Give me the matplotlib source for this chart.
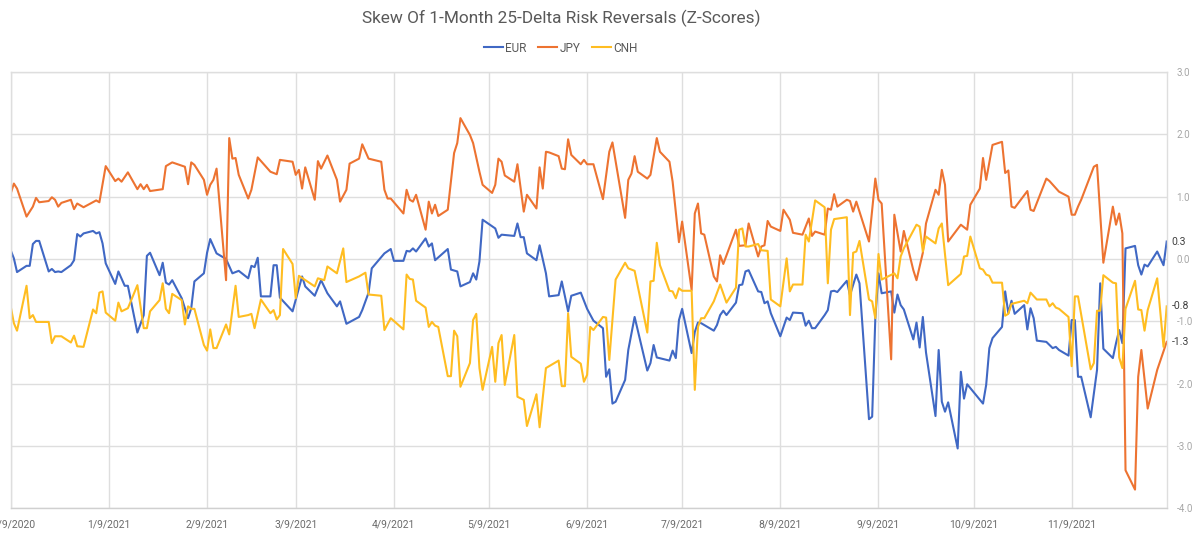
import matplotlib
matplotlib.use("Agg")
import matplotlib.pyplot as plt
import matplotlib.dates as mdates
import pandas as pd

TITLE = "Skew Of 1-Month 25-Delta Risk Reversals (Z-Scores)"
series_names = ["EUR", "JPY", "CNH"]

eur_dates = ["2020-12-09","2020-12-10","2020-12-11","2020-12-14","2020-12-15","2020-12-16","2020-12-17","2020-12-18",
"2020-12-21","2020-12-22","2020-12-23","2020-12-24","2020-12-25","2020-12-28","2020-12-29","2020-12-30","2020-12-31",
"2021-01-01","2021-01-04","2021-01-05","2021-01-06","2021-01-07","2021-01-08","2021-01-11","2021-01-12","2021-01-14",
"2021-01-15","2021-01-18","2021-01-20","2021-01-21","2021-01-22","2021-01-25","2021-01-26","2021-01-27","2021-01-28",
"2021-01-29","2021-02-01","2021-02-03","2021-02-04","2021-02-05","2021-02-08","2021-02-09","2021-02-10","2021-02-12",
"2021-02-15","2021-02-17","2021-02-18","2021-02-19","2021-02-22","2021-02-23","2021-02-24","2021-02-25","2021-02-26",
"2021-03-01","2021-03-02","2021-03-03","2021-03-04","2021-03-08","2021-03-11","2021-03-12","2021-03-15","2021-03-17",
"2021-03-19","2021-03-22","2021-03-23","2021-03-25","2021-03-29","2021-03-30","2021-04-01","2021-04-02","2021-04-06",
"2021-04-08","2021-04-09","2021-04-12","2021-04-13","2021-04-14","2021-04-15","2021-04-16","2021-04-19","2021-04-20",
"2021-04-21","2021-04-22","2021-04-26","2021-04-27","2021-04-29","2021-04-30","2021-05-03","2021-05-04","2021-05-05",
"2021-05-06","2021-05-07","2021-05-11","2021-05-12","2021-05-13","2021-05-17","2021-05-18","2021-05-19","2021-05-20",
"2021-05-21","2021-05-24","2021-05-25","2021-05-27","2021-05-28","2021-05-31","2021-06-01","2021-06-03","2021-06-04",
"2021-06-07","2021-06-09","2021-06-11","2021-06-14","2021-06-15","2021-06-16","2021-06-17","2021-06-18","2021-06-21",
"2021-06-22","2021-06-24","2021-06-28","2021-06-29","2021-06-30","2021-07-01","2021-07-05","2021-07-06","2021-07-07",
"2021-07-08","2021-07-09","2021-07-12","2021-07-13","2021-07-14","2021-07-15","2021-07-19","2021-07-20","2021-07-21",
"2021-07-22","2021-07-23","2021-07-26","2021-07-27","2021-07-28","2021-07-29","2021-07-30","2021-08-02","2021-08-03",
"2021-08-04","2021-08-05","2021-08-06","2021-08-09","2021-08-11","2021-08-12","2021-08-13","2021-08-16","2021-08-17",
"2021-08-18","2021-08-19","2021-08-20","2021-08-23","2021-08-24","2021-08-25","2021-08-26","2021-08-27","2021-08-30",
"2021-08-31","2021-09-02","2021-09-03","2021-09-06","2021-09-07","2021-09-08","2021-09-09","2021-09-10","2021-09-13",
"2021-09-14","2021-09-15","2021-09-16","2021-09-17","2021-09-20","2021-09-21","2021-09-22","2021-09-23","2021-09-24",
"2021-09-27","2021-09-28","2021-09-29","2021-09-30","2021-10-01","2021-10-04","2021-10-05","2021-10-06","2021-10-07",
"2021-10-12","2021-10-13","2021-10-14","2021-10-15","2021-10-18","2021-10-19","2021-10-20","2021-10-21","2021-10-22",
"2021-10-25","2021-10-26","2021-10-27","2021-10-28","2021-10-29","2021-11-01","2021-11-02","2021-11-03","2021-11-04",
"2021-11-05","2021-11-08","2021-11-09","2021-11-10","2021-11-11","2021-11-12","2021-11-15","2021-11-17","2021-11-18",
"2021-11-19","2021-11-22","2021-11-23","2021-11-24","2021-11-25","2021-11-26","2021-11-29","2021-11-30","2021-12-01",
"2021-12-02","2021-12-03","2021-12-06","2021-12-08","2021-12-09"]
eur_values = [0.14,0.01,-0.21,-0.11,-0.11,0.24,0.29,0.29,
-0.20,-0.16,-0.21,-0.20,-0.21,-0.10,-0.02,0.40,0.36,
0.41,0.45,0.41,0.43,0.25,-0.07,-0.40,-0.20,-0.43,
-0.43,-1.18,-0.90,0.05,0.10,-0.26,-0.06,-0.38,-0.41,
-0.34,-0.63,-0.95,-0.79,-0.36,-0.23,0.10,0.32,0.09,
0.00,-0.23,-0.21,-0.19,-0.31,-0.11,-0.13,0.02,-0.60,
-0.60,-0.10,-0.10,-0.62,-0.84,-0.28,-0.44,-0.59,-0.34,
-0.55,-0.76,-0.68,-1.04,-0.93,-0.82,-0.54,-0.15,0.09,
0.16,-0.03,-0.03,0.13,0.12,0.17,0.12,0.33,0.20,
0.25,-0.02,0.16,-0.17,-0.20,-0.44,-0.37,-0.23,-0.33,
-0.04,0.63,0.49,0.34,0.39,0.37,0.57,0.35,0.35,
0.09,-0.02,0.22,-0.23,-0.60,-0.58,-0.36,-0.84,-0.59,
-0.54,-0.80,-0.99,-1.11,-1.89,-1.77,-2.32,-2.29,-1.94,
-1.46,-0.93,-1.79,-1.67,-1.38,-1.58,-1.63,-1.47,-1.59,
-0.98,-0.80,-1.51,-1.17,-1.02,-1.03,-1.15,-1.06,-0.90,
-0.83,-0.90,-0.70,-0.42,-0.41,-0.20,-0.18,-0.52,-0.53,
-0.71,-0.68,-0.87,-1.24,-0.94,-0.98,-0.86,-0.87,-1.07,
-0.99,-1.11,-1.11,-0.90,-0.82,-0.52,-0.51,-0.53,-0.35,
-0.58,-0.25,-0.39,-2.57,-2.53,-0.95,-0.23,-0.55,-0.52,
-0.86,-0.57,-0.74,-0.81,-1.29,-1.02,-1.42,-0.93,-1.50,
-2.52,-1.46,-2.29,-2.45,-2.30,-3.04,-1.81,-2.24,-2.01,
-2.32,-2.02,-1.43,-1.27,-1.09,-0.52,-0.87,-0.67,-0.88,
-0.74,-1.13,-0.79,-0.95,-1.31,-1.33,-1.38,-1.43,-1.41,
-1.46,-1.55,-0.98,-0.98,-1.89,-1.89,-2.54,-1.78,-0.39,
-1.44,-1.59,-1.35,-1.14,-1.35,0.17,0.21,-0.10,-0.25,
-0.09,-0.12,0.12,-0.10,0.28]

jpy_dates = ["2020-12-09","2020-12-10","2020-12-11","2020-12-14","2020-12-16","2020-12-17","2020-12-18","2020-12-21",
"2020-12-22","2020-12-23","2020-12-24","2020-12-25","2020-12-28","2020-12-29","2020-12-30","2021-01-01","2021-01-05",
"2021-01-06","2021-01-08","2021-01-11","2021-01-12","2021-01-13","2021-01-15","2021-01-18","2021-01-19","2021-01-20",
"2021-01-21","2021-01-22","2021-01-26","2021-01-27","2021-01-29","2021-02-02","2021-02-03","2021-02-04","2021-02-05",
"2021-02-08","2021-02-09","2021-02-10","2021-02-11","2021-02-12","2021-02-15","2021-02-16","2021-02-17","2021-02-18",
"2021-02-19","2021-02-22","2021-02-23","2021-02-25","2021-03-01","2021-03-03","2021-03-04","2021-03-08","2021-03-09",
"2021-03-10","2021-03-11","2021-03-12","2021-03-15","2021-03-16","2021-03-17","2021-03-19","2021-03-22","2021-03-23",
"2021-03-25","2021-03-26","2021-03-29","2021-03-30","2021-04-01","2021-04-05","2021-04-06","2021-04-07","2021-04-08",
"2021-04-12","2021-04-13","2021-04-14","2021-04-15","2021-04-16","2021-04-19","2021-04-20","2021-04-21","2021-04-22",
"2021-04-23","2021-04-26","2021-04-28","2021-04-29","2021-04-30","2021-05-03","2021-05-04","2021-05-06","2021-05-07",
"2021-05-10","2021-05-11","2021-05-12","2021-05-13","2021-05-14","2021-05-17","2021-05-18","2021-05-20","2021-05-21",
"2021-05-24","2021-05-25","2021-05-26","2021-05-27","2021-05-28","2021-05-31","2021-06-01","2021-06-02","2021-06-03",
"2021-06-04","2021-06-07","2021-06-08","2021-06-09","2021-06-11","2021-06-14","2021-06-16","2021-06-17","2021-06-21",
"2021-06-22","2021-06-23","2021-06-24","2021-06-25","2021-06-28","2021-06-29","2021-07-01","2021-07-02","2021-07-05",
"2021-07-06","2021-07-08","2021-07-09","2021-07-12","2021-07-13","2021-07-14","2021-07-15","2021-07-16","2021-07-19",
"2021-07-20","2021-07-21","2021-07-22","2021-07-26","2021-07-27","2021-07-29","2021-07-30","2021-08-02","2021-08-03",
"2021-08-04","2021-08-05","2021-08-06","2021-08-09","2021-08-10","2021-08-12","2021-08-13","2021-08-16","2021-08-18",
"2021-08-19","2021-08-20","2021-08-23","2021-08-24","2021-08-25","2021-08-26","2021-08-27","2021-08-30","2021-08-31",
"2021-09-01","2021-09-02","2021-09-06","2021-09-08","2021-09-09","2021-09-10","2021-09-13","2021-09-14","2021-09-16",
"2021-09-17","2021-09-20","2021-09-21","2021-09-23","2021-09-24","2021-09-27","2021-09-28","2021-09-29","2021-09-30",
"2021-10-01","2021-10-05","2021-10-07","2021-10-08","2021-10-11","2021-10-12","2021-10-13","2021-10-15","2021-10-18",
"2021-10-19","2021-10-20","2021-10-21","2021-10-22","2021-10-26","2021-10-27","2021-10-28","2021-11-01","2021-11-02",
"2021-11-05","2021-11-08","2021-11-09","2021-11-10","2021-11-11","2021-11-12","2021-11-16","2021-11-17","2021-11-19",
"2021-11-22","2021-11-23","2021-11-24","2021-11-25","2021-11-26","2021-11-29","2021-11-30","2021-12-01","2021-12-03",
"2021-12-06","2021-12-09"]
jpy_values = [1.05,1.21,1.13,0.68,0.84,0.98,0.91,0.93,
0.99,0.95,0.84,0.90,0.95,0.80,0.89,0.83,0.94,
0.91,1.49,1.25,1.29,1.24,1.39,1.12,1.20,1.12,
1.19,1.09,1.12,1.49,1.55,1.48,1.20,1.55,1.51,
1.27,1.03,1.19,1.27,1.45,-0.34,1.94,1.61,1.62,
1.35,0.97,1.11,1.63,1.40,1.36,1.59,1.56,1.35,
1.43,1.13,1.47,0.95,1.57,1.45,1.66,1.27,0.92,
1.11,1.53,1.61,1.84,1.61,1.56,1.11,0.97,0.97,
0.73,1.11,0.95,0.92,1.03,0.47,0.92,0.73,0.87,
0.69,0.79,1.70,1.86,2.26,1.99,1.86,1.40,1.19,
1.06,1.19,1.61,1.56,1.34,1.24,1.52,0.76,1.03,
0.81,1.47,1.13,1.72,1.71,1.65,1.45,1.44,1.92,
1.67,1.52,1.59,1.52,1.52,0.96,1.72,1.87,0.66,
1.27,1.37,1.65,1.40,1.29,1.35,1.94,1.72,1.56,
1.24,0.27,0.60,-0.50,0.73,0.89,0.41,0.39,-0.28,
-0.36,0.06,-0.08,0.47,0.21,0.22,0.57,0.04,0.20,
0.22,0.61,0.52,0.45,0.79,0.63,0.42,0.39,0.65,
0.37,0.44,0.39,0.81,0.79,1.04,0.84,0.95,0.93,
0.76,0.92,0.28,1.29,0.95,0.89,-1.61,0.71,0.12,
0.45,-0.18,-0.34,0.10,0.57,1.11,1.03,1.43,1.19,
0.28,0.55,0.47,0.87,1.13,1.62,1.27,1.83,1.88,
1.38,1.42,0.84,0.82,1.09,0.79,0.77,1.29,1.25,
1.08,1.00,0.71,0.71,0.84,0.95,1.48,1.51,-0.06,
0.84,0.55,0.73,0.41,-3.39,-3.70,-1.89,-1.46,-2.40,
-1.78,-1.33]

cnh_dates = ["2020-12-09","2020-12-10","2020-12-11","2020-12-14","2020-12-15","2020-12-16","2020-12-17","2020-12-21",
"2020-12-22","2020-12-23","2020-12-25","2020-12-28","2020-12-29","2020-12-30","2021-01-01","2021-01-04","2021-01-05",
"2021-01-06","2021-01-07","2021-01-08","2021-01-11","2021-01-12","2021-01-13","2021-01-15","2021-01-18","2021-01-20",
"2021-01-21","2021-01-22","2021-01-25","2021-01-26","2021-01-27","2021-01-28","2021-01-29","2021-02-01","2021-02-02",
"2021-02-03","2021-02-04","2021-02-05","2021-02-08","2021-02-09","2021-02-10","2021-02-11","2021-02-12","2021-02-15",
"2021-02-16","2021-02-18","2021-02-19","2021-02-22","2021-02-23","2021-02-24","2021-02-26","2021-03-01","2021-03-02",
"2021-03-03","2021-03-04","2021-03-05","2021-03-08","2021-03-09","2021-03-10","2021-03-15","2021-03-16","2021-03-18",
"2021-03-19","2021-03-22","2021-03-24","2021-03-25","2021-03-29","2021-03-31","2021-04-01","2021-04-05","2021-04-06",
"2021-04-08","2021-04-12","2021-04-13","2021-04-14","2021-04-15","2021-04-16","2021-04-19","2021-04-20","2021-04-21",
"2021-04-22","2021-04-23","2021-04-26","2021-04-27","2021-04-28","2021-04-29","2021-04-30","2021-05-03","2021-05-04",
"2021-05-05","2021-05-06","2021-05-07","2021-05-10","2021-05-11","2021-05-12","2021-05-13","2021-05-14","2021-05-17",
"2021-05-18","2021-05-20","2021-05-21","2021-05-24","2021-05-25","2021-05-27","2021-05-31","2021-06-01","2021-06-02",
"2021-06-03","2021-06-04","2021-06-07","2021-06-08","2021-06-09","2021-06-10","2021-06-11","2021-06-14","2021-06-15",
"2021-06-16","2021-06-18","2021-06-21","2021-06-22","2021-06-24","2021-06-28","2021-06-29","2021-06-30","2021-07-01",
"2021-07-02","2021-07-05","2021-07-06","2021-07-07","2021-07-08","2021-07-09","2021-07-12","2021-07-13","2021-07-14",
"2021-07-15","2021-07-16","2021-07-19","2021-07-21","2021-07-23","2021-07-26","2021-07-27","2021-07-28","2021-07-29",
"2021-07-30","2021-08-02","2021-08-03","2021-08-05","2021-08-06","2021-08-09","2021-08-11","2021-08-12","2021-08-13",
"2021-08-16","2021-08-17","2021-08-18","2021-08-20","2021-08-23","2021-08-24","2021-08-25","2021-08-26","2021-08-30",
"2021-08-31","2021-09-01","2021-09-02","2021-09-03","2021-09-06","2021-09-07","2021-09-08","2021-09-09","2021-09-10",
"2021-09-14","2021-09-15","2021-09-16","2021-09-17","2021-09-21","2021-09-22","2021-09-23","2021-09-24","2021-09-27",
"2021-09-28","2021-09-29","2021-10-01","2021-10-05","2021-10-06","2021-10-07","2021-10-08","2021-10-11","2021-10-12",
"2021-10-13","2021-10-14","2021-10-15","2021-10-18","2021-10-19","2021-10-20","2021-10-21","2021-10-25","2021-10-26",
"2021-10-27","2021-10-29","2021-11-01","2021-11-02","2021-11-03","2021-11-04","2021-11-05","2021-11-08","2021-11-09",
"2021-11-10","2021-11-11","2021-11-15","2021-11-16","2021-11-17","2021-11-18","2021-11-19","2021-11-22","2021-11-23",
"2021-11-24","2021-11-25","2021-11-26","2021-11-29","2021-11-30","2021-12-01","2021-12-02","2021-12-03","2021-12-06",
"2021-12-08","2021-12-09"]
cnh_values = [-0.76,-1.03,-1.15,-0.43,-0.95,-0.90,-1.01,-1.01,
-1.35,-1.24,-1.24,-1.34,-1.23,-1.40,-1.41,-0.81,-0.87,
-0.54,-0.52,-0.86,-0.99,-0.70,-0.84,-0.79,-0.42,-1.11,
-1.11,-0.84,-0.66,-0.39,-0.80,-0.87,-0.56,-0.66,-1.05,
-0.76,-0.80,-0.80,-1.38,-1.47,-1.13,-1.43,-1.43,-1.05,
-1.21,-0.43,-0.93,-0.90,-0.88,-1.11,-0.65,-0.87,-0.82,
-0.97,-0.90,0.16,-0.08,-0.63,-0.27,-0.44,-0.31,-0.34,
-0.12,-0.23,0.17,-0.37,-0.28,-0.22,-0.57,-0.59,-1.14,
-0.95,-1.13,-0.25,-0.32,-0.33,-0.67,-0.78,-1.09,-1.01,
-1.07,-1.09,-1.88,-1.88,-1.15,-1.24,-2.05,-1.67,-0.98,
-0.88,-1.75,-2.10,-1.41,-1.97,-1.35,-1.22,-2.02,-1.22,
-2.21,-2.26,-2.68,-2.17,-2.70,-1.75,-1.63,-2.04,-2.04,
-0.87,-1.57,-1.68,-1.97,-1.86,-1.09,-1.14,-0.93,-0.94,
-1.62,-0.33,-0.06,-0.15,-0.19,-1.18,-0.36,-0.35,0.26,
-0.10,-0.51,-0.52,-0.63,-0.47,-0.51,-0.51,-2.10,-1.09,
-0.95,-0.95,-0.68,-0.41,-0.70,-0.46,0.47,0.49,0.20,
0.20,0.24,0.14,0.13,-0.65,-0.76,0.01,-0.52,-0.41,
-0.41,0.39,0.28,0.94,0.83,-0.39,0.47,0.64,0.67,
-0.90,0.10,0.12,0.29,-0.65,-0.68,-0.95,0.08,-0.33,
-0.23,-0.31,0.04,0.17,0.55,0.52,0.12,0.36,0.25,
0.49,0.57,-0.42,-0.24,0.04,0.05,0.36,-0.15,-0.17,
-0.25,-0.27,-0.38,-0.38,-0.91,-0.88,-0.72,-0.67,-0.71,
-0.54,-0.65,-0.65,-0.76,-0.71,-0.78,-0.80,-0.93,-1.72,
-0.60,-0.60,-1.77,-1.67,-0.83,-0.83,-0.26,-0.38,-0.39,
-1.58,-1.75,-0.80,-0.35,-0.81,-0.82,-1.15,-0.82,-0.31,
-1.41,-0.76]

x_tick_dates = ["2020-12-09","2021-01-09","2021-02-09","2021-03-09","2021-04-09","2021-05-09","2021-06-09",
                "2021-07-09","2021-08-09","2021-09-09","2021-10-09","2021-11-09"]
y_ticks = [3.0, 2.0, 1.0, 0.0, -1.0, -2.0, -3.0, -4.0]

colors = ["#4068C4", "#ED7331", "#FFBD21"]
FONT = ["Liberation Sans Narrow", "Roboto", "DejaVu Sans"]
plt.rcParams["font.family"] = FONT

W, H = 1200, 533
fig = plt.figure(figsize=(W / 100, H / 100), dpi=100)
left_px, right_px, top_px, bot_px = 10.7, 1166.7, 72.0, 508.3
ax = fig.add_axes([left_px / W, 1 - bot_px / H, (right_px - left_px) / W, (bot_px - top_px) / H])

all_series = [
    (series_names[0], eur_dates, eur_values, colors[0]),
    (series_names[1], jpy_dates, jpy_values, colors[1]),
    (series_names[2], cnh_dates, cnh_values, colors[2]),
]
handles = []
for name, d, v, c in all_series:
    (ln,) = ax.plot(pd.to_datetime(d), v, color=c, lw=1.5, label=name, solid_joinstyle="round")
    handles.append(ln)

xt = pd.to_datetime(x_tick_dates)
ax.set_xlim(pd.Timestamp(eur_dates[0]), pd.Timestamp(eur_dates[-1]))
ax.set_ylim(-4, 3)
ax.set_xticks(xt)
ax.set_xticklabels([f"{t.month}/{t.day}/{t.year}" for t in xt], fontsize=7.5, color="#6b6b6b")
ax.set_yticks(y_ticks)
ax.yaxis.tick_right()
ax.set_yticklabels([f"{t:.1f}" for t in y_ticks], fontsize=7, color="#a6a6a6")
ax.tick_params(axis="both", length=0)
ax.tick_params(axis="x", pad=8)
ax.tick_params(axis="y", pad=7)
ax.grid(True, color="#dedede", lw=1)
ax.set_axisbelow(True)
for s in ax.spines.values():
    s.set_color("#dedede")
    s.set_linewidth(1)
ax.spines["bottom"].set_color("#d0d0d0")

# end-of-series labels
for name, d, v, c in all_series:
    ax.annotate(f"{v[-1]:.1f}", xy=(pd.Timestamp(d[-1]), v[-1]), xytext=(3.5, 0),
                textcoords="offset points", va="center", ha="left", fontsize=7.5,
                color="#404040", annotation_clip=False)

fig.text(561 / W, 1 - 18 / H, TITLE, ha="center", va="center", fontsize=12.4, color="#595959")
fig.legend(handles=handles, labels=series_names, loc="center", bbox_to_anchor=(561 / W, 1 - 48 / H),
           ncol=3, frameon=False, fontsize=8.5, handlelength=1.6, handletextpad=0.2,
           columnspacing=1.0, labelcolor="#595959")

fig.savefig("out.png", dpi=100)
